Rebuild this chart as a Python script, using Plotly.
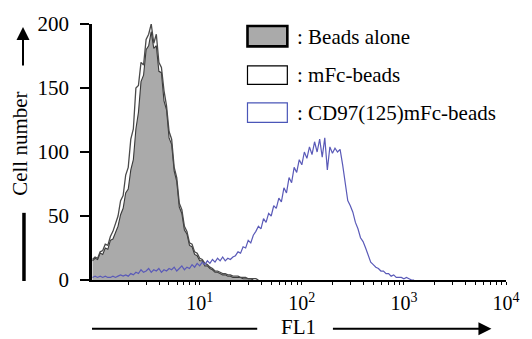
import numpy as np
import plotly.graph_objects as go

# ---- data (log-spaced FL1 channels: 40 channels per decade starting at 10^-0.05) ----
channel_step = 0.025
channel_start = -0.05
n_channels = 127
fl1 = 10 ** (channel_start + channel_step * np.arange(n_channels))

beads_alone = [15, 17, 16, 21, 20, 25, 24, 31, 32, 37,
               42, 51, 56, 68, 71, 86, 94, 118, 131, 155,
               160, 180, 183, 194, 181, 183, 163, 162, 140, 133,
               111, 106, 85, 77, 57, 52, 39, 36, 27, 26,
               20, 19, 15, 15, 11, 11, 9, 8, 6, 6,
               5, 4, 4, 3, 3, 2, 2, 2, 2, 1,
               1, 1, 1, 0]

mfc_beads = [16, 18, 17, 22, 23, 28, 27, 34, 38, 45,
             50, 62, 66, 82, 88, 110, 118, 150, 152, 170,
             168, 188, 192, 200, 185, 192, 170, 166, 148, 136,
             116, 110, 88, 80, 60, 55, 42, 38, 29, 28,
             22, 21, 17, 16, 13, 12, 10, 9, 7, 7,
             6, 5, 5, 4, 4, 3, 3, 3, 2, 2,
             2, 1, 1, 1, 1, 0]

cd97_beads = [2, 3, 2, 3, 2, 3, 2, 2, 3, 2,
              3, 4, 3, 4, 3, 5, 4, 6, 5, 8,
              6, 7, 9, 6, 8, 7, 9, 6, 8, 7,
              9, 8, 10, 7, 9, 11, 8, 10, 9, 12,
              10, 13, 11, 14, 12, 15, 13, 16, 14, 17,
              15, 18, 15, 17, 16, 18, 19, 22, 21, 26,
              25, 31, 29, 35, 38, 42, 40, 48, 45, 52,
              50, 58, 56, 64, 61, 72, 68, 80, 76, 88,
              84, 94, 90, 100, 95, 104, 98, 108, 100, 110,
              96, 111, 86, 104, 99, 103, 100, 102, 90, 75,
              62, 58, 53, 45, 40, 33, 30, 25, 20, 14,
              12, 10, 9, 7, 7, 5, 5, 3, 4, 2,
              2, 2, 1, 2, 1, 0, 0]

legend_labels = [": Beads alone", ": mFc-beads", ": CD97(125)mFc-beads"]
y_ticks = [0, 50, 100, 150, 200]
x_major = [10, 100, 1000, 10000]
x_major_text = ["10<sup>1</sup>", "10<sup>2</sup>", "10<sup>3</sup>", "10<sup>4</sup>"]
x_minor = [m * 10 ** k for k in range(0, 4) for m in range(2, 10)]

# ---- layout geometry ----
W, H = 532, 339
ML, MR, MT, MB = 92, 14, 17, 59
PW, PH = W - ML - MR, H - MT - MB
FONT = "Liberation Serif, Times New Roman, serif"


def px(x):
    return (x - ML) / PW


def py(y):
    return (H - MB - y) / PH


fig = go.Figure()
fig.add_trace(go.Scatter(x=fl1[:len(beads_alone)], y=beads_alone, mode="lines",
                         fill="tozeroy", fillcolor="#aaaaaa",
                         line=dict(color="#3a3a3a", width=1.1), showlegend=False))
fig.add_trace(go.Scatter(x=fl1[:len(mfc_beads)], y=mfc_beads, mode="lines",
                         line=dict(color="#4a4a4a", width=1.3), showlegend=False))
fig.add_trace(go.Scatter(x=fl1[:len(cd97_beads)], y=cd97_beads, mode="lines",
                         line=dict(color="#5a5ab8", width=1.2), showlegend=False))

shapes = []
annotations = []

# legend boxes
box_specs = [
    (19, 40, "#aaaaaa", "black", 2.6),
    (60, 79, "white", "black", 1.2),
    (98, 118, "white", "#4a56b8", 1.2),
]
text_y = [30, 69, 108]
for (y0, y1, fc, lc, lw), lab, ty in zip(box_specs, legend_labels, text_y):
    shapes.append(dict(type="rect", xref="paper", yref="paper",
                       x0=px(252), x1=px(293), y0=py(y1), y1=py(y0),
                       fillcolor=fc, line=dict(color=lc, width=lw), layer="above"))
    annotations.append(dict(text=lab, xref="paper", yref="paper", x=px(301), y=py(ty),
                            xanchor="left", yanchor="middle", showarrow=False,
                            font=dict(family=FONT, size=21, color="black")))

# y-axis title with arrow and bar
annotations.append(dict(text="Cell number", xref="paper", yref="paper", x=px(18), y=py(140),
                        textangle=-90, showarrow=False, xanchor="center", yanchor="middle",
                        font=dict(family=FONT, size=21, color="black")))
annotations.append(dict(text="", xref="paper", yref="paper", x=px(21), y=py(20),
                        ax=0, ay=40, axref="pixel", ayref="pixel", showarrow=True,
                        arrowhead=2, arrowsize=1.3, arrowwidth=2, arrowcolor="black"))
shapes.append(dict(type="line", xref="paper", yref="paper", x0=px(22), x1=px(22),
                   y0=py(211), y1=py(281), line=dict(color="black", width=3.5)))

# x-axis title with bar and arrow
annotations.append(dict(text="FL1", xref="paper", yref="paper", x=px(304), y=py(328),
                        showarrow=False, xanchor="center", yanchor="middle",
                        font=dict(family=FONT, size=21, color="black")))
shapes.append(dict(type="line", xref="paper", yref="paper", x0=px(92), x1=px(262),
                   y0=py(330), y1=py(330), line=dict(color="black", width=2)))
annotations.append(dict(text="", xref="paper", yref="paper", x=px(503), y=py(330),
                        ax=-160, ay=0, axref="pixel", ayref="pixel", showarrow=True,
                        arrowhead=2, arrowsize=1.3, arrowwidth=2, arrowcolor="black"))

fig.update_layout(
    width=W, height=H,
    margin=dict(l=ML, r=MR, t=MT, b=MB, pad=0),
    paper_bgcolor="white", plot_bgcolor="white",
    font=dict(family=FONT, color="black"),
    shapes=shapes, annotations=annotations,
    xaxis=dict(type="log", range=[-0.055, 4.0], showgrid=False, zeroline=False,
               showline=True, linecolor="black", linewidth=2,
               tickmode="array", tickvals=x_major, ticktext=x_major_text,
               ticks="outside", ticklen=3, tickwidth=1, tickcolor="black",
               ticklabelstandoff=1, ticklabeloverflow="allow",
               minor=dict(tickmode="array", tickvals=x_minor, ticks="outside",
                          ticklen=3, tickwidth=1, tickcolor="black", showgrid=False),
               tickfont=dict(family=FONT, size=20, color="black")),
    yaxis=dict(range=[0, 200], showgrid=False, zeroline=False,
               showline=True, linecolor="black", linewidth=2.5,
               tickmode="array", tickvals=y_ticks,
               ticks="outside", ticklen=9, tickwidth=2, tickcolor="black",
               ticklabelstandoff=7,
               tickfont=dict(family=FONT, size=21, color="black")),
)

fig.write_html("out.html")
